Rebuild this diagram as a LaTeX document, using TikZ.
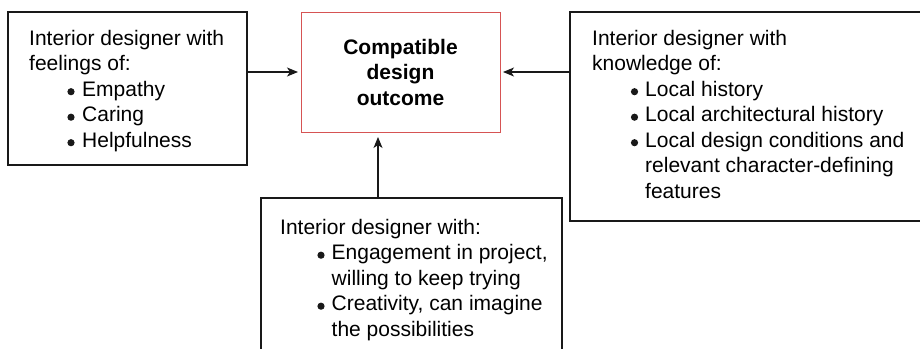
\documentclass[tikz,border=0pt]{standalone}
\usepackage{fontspec}
\setmainfont{Liberation Sans}
\usetikzlibrary{arrows.meta,calc}
\definecolor{boxred}{RGB}{214,84,84}
\definecolor{ink}{RGB}{25,25,25}
\begin{document}
\begin{tikzpicture}[x=1pt,y=-1pt,
  box/.style={draw=ink, line width=1.2pt, rectangle, inner sep=0pt, outer sep=0pt, anchor=north west},
  goalbox/.style={draw=boxred, line width=1pt, rectangle, inner sep=0pt, outer sep=0pt,
    anchor=north west, align=center, font=\fontsize{21}{25.5}\selectfont\bfseries},
  txt/.style={anchor=base west, inner sep=0pt, font=\fontsize{21}{25.5}\selectfont},
  arr/.style={draw=ink, line width=1.2pt, -{Stealth[length=11pt,width=9pt,inset=3pt]}, shorten >=3pt}]
\useasboundingbox (0,0) rectangle (920,348);
\clip (0,0) rectangle (920,348);

% boxes
\node[box, minimum width=239pt, minimum height=153pt] (A) at (8,12) {};
\node[goalbox, minimum width=199pt, minimum height=120pt] (C) at (301,12)
  {Compatible\\design\\outcome};
\node[box, minimum width=360pt, minimum height=209pt] (B) at (570,12) {};
\node[box, minimum width=301pt, minimum height=170pt] (D) at (261,198) {};

% left box text
\node[txt] (a1) at (29,45) {Interior designer with};
\node[txt] (a2) at (29,70.5) {feelings of:};
\node[txt] (a3) at (82,96) {Empathy};
\node[txt] (a4) at (82,121.5) {Caring};
\node[txt] (a5) at (82,147) {Helpfulness};
\foreach \y in {96,121.5,147} \fill[ink] (71,\y-4.3) circle (3.6pt);

% right box text
\node[txt] (b1) at (592,45) {Interior designer with};
\node[txt] (b2) at (592,70.5) {knowledge of:};
\node[txt] (b3) at (645,96) {Local history};
\node[txt] (b4) at (645,121.5) {Local architectural history};
\node[txt] (b5) at (645,147) {Local design conditions and};
\node[txt] (b6) at (645,172.5) {relevant character-defining};
\node[txt] (b7) at (645,198) {features};
\foreach \y in {96,121.5,147} \fill[ink] (634.5,\y-4.3) circle (3.6pt);

% bottom box text
\node[txt] (d1) at (280,234) {Interior designer with:};
\node[txt] (d2) at (331.5,259.5) {Engagement in project,};
\node[txt] (d3) at (331.5,285) {willing to keep trying};
\node[txt] (d4) at (331.5,310.5) {Creativity, can imagine};
\node[txt] (d5) at (331.5,336) {the possibilities};
\foreach \y in {259.5,310.5} \fill[ink] (321,\y-4.3) circle (3.6pt);

% connectors
\coordinate (Dtop) at ([xshift=117pt]D.north west);
\draw[arr] (A.east |- C.west) -- (C.west);
\draw[arr] (B.west |- C.east) -- (C.east);
\draw[arr, shorten >=5pt] (Dtop) -- (Dtop |- C.south);
\end{tikzpicture}
\end{document}
